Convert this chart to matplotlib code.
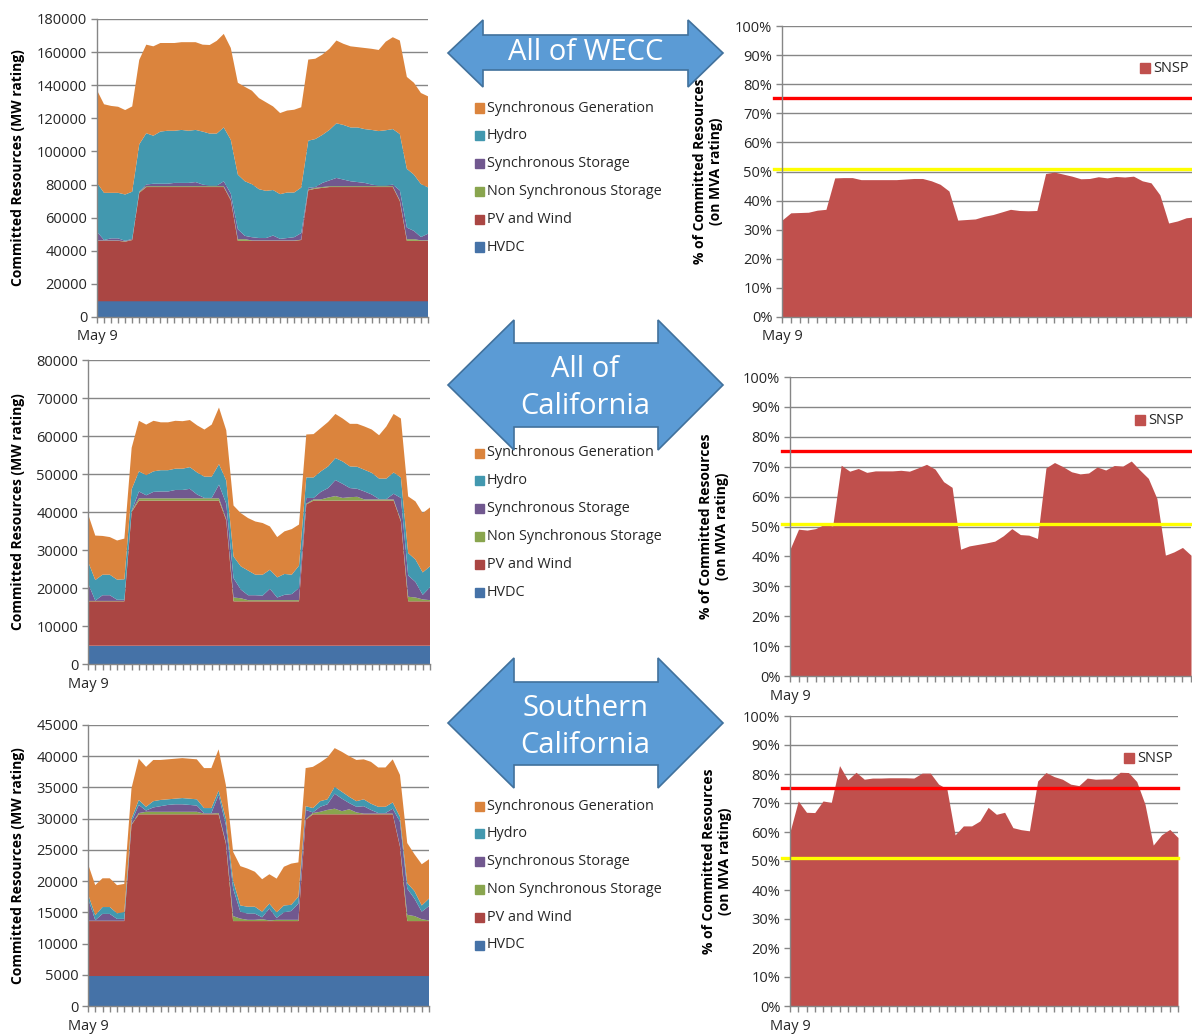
import numpy as np
import matplotlib
matplotlib.use("Agg")
import matplotlib.pyplot as plt
from matplotlib.patches import Polygon, Rectangle
from matplotlib.ticker import FuncFormatter, FixedLocator

plt.rcParams['font.family'] = ['Open Sans', 'DejaVu Sans']

# ---------------- data ----------------
series_names = ["HVDC", "PV and Wind", "Non Synchronous Storage",
                "Synchronous Storage", "Hydro", "Synchronous Generation"]
first_label = "May 9"

wecc_hvdc = [9500] * 48
wecc_pv = [36500, 36500, 36500, 36500, 36000, 37000, 65500,
           69000, 69000, 69000, 69000, 69000, 69000, 69000, 69000, 69000, 69000, 69000, 69000,
           61000,
           36500, 36500, 36500, 36500, 36500, 36500, 36500, 36500, 36500, 37000,
           67000, 68000, 68500,
           69000, 69000, 69000, 69000, 69000, 69000, 69000, 69000, 69000, 69000,
           60500, 36500, 36500, 36500, 36500]
wecc_nss = [200, 200, 200, 200, 200, 200,
            500, 500, 500, 500, 500, 500, 500, 500, 500, 500, 500, 500, 500, 500,
            1000, 1000, 200, 200, 200, 200, 200, 200, 200, 200,
            500, 500, 500, 500, 500, 500, 500, 500, 500, 500, 500, 500, 500, 500,
            1000, 1000, 300, 300]
wecc_ss = [5300, 300, 1300, 1300, 300, 500,
           300, 1000, 1500, 1500, 1500, 2000, 2000, 2000, 2500, 1000, 300, 300, 3000, 3500,
           6000, 2000, 2000, 1500, 1500, 3000, 1000, 1500, 2000, 4000,
           1000, 500, 2500, 3500, 5000, 4000, 3000, 2500, 2000, 1000, 300, 300, 1000, 6000,
           7000, 5000, 2000, 4000]
wecc_hydro = [29500, 28500, 27500, 27500, 28000, 28500,
              28500, 31000, 29000, 31500, 32000, 31500, 32000, 31500, 31500, 32000, 31500, 31500, 32500, 32500,
              33000, 33000, 32000, 29500, 28500, 27500, 27000, 27500, 27000, 27500,
              28500, 29000, 29000, 30500, 33000, 33000, 32500, 33000, 32500, 33000, 33000, 33500, 33500, 34000,
              35500, 34000, 32000, 28000]
wecc_sg = [56000, 53500, 52500, 52000, 51000, 51500,
           51000, 53500, 54000, 53500, 53000, 53000, 53000, 53500, 53000, 52500, 53500, 56000, 56500, 55500,
           55500, 57000, 56500, 55000, 53500, 50500, 49000, 49500, 50000, 48500,
           49000, 48500, 48500, 49000, 50000, 49000, 49000, 48500, 49000, 49000, 49000, 53500, 55500, 56500,
           55500, 55500, 55000, 55000]

cal_hvdc = [4800] * 48
cal_pv = [11700, 11700, 11700, 11700, 11700, 11700, 35200,
          38200, 38200, 38200, 38200, 38200, 38200, 38200, 38200, 38200, 38200, 38200, 38200,
          33000,
          11700, 11700, 11700, 11700, 11700, 11700, 11700, 11700, 11700, 11700,
          37200,
          38200, 38200, 38200, 38200, 38200, 38200, 38200, 38200, 38200, 38200, 38200, 38200,
          32700, 11700, 11700, 11700, 11700]
cal_nss = [100, 100, 100, 100, 100, 100, 200,
           600, 600, 600, 600, 600, 600, 600, 600, 600, 600, 600, 600,
           300, 1000, 800, 300, 300, 300, 300, 300, 300, 300, 300,
           200, 300, 300, 800, 1200, 700, 900, 1000, 300, 300, 300, 300, 300,
           300, 1200, 1000, 500, 300]
cal_ss = [4700, 100, 1500, 1500, 300, 300,
          100, 1800, 800, 1700, 1800, 1800, 2200, 2200, 2500, 1000, 100, 100, 3600, 4100,
          5100, 2300, 1300, 1300, 1200, 3000, 700, 1400, 1600, 3200,
          1500, 400, 2000, 2500, 4200, 3700, 2400, 2100, 2100, 1300, 100, 100, 1500, 5900,
          5600, 4100, 1200, 3400]
cal_hydro = [5700, 5400, 5400, 5400, 5300, 5400,
             5700, 5300, 5300, 5400, 5600, 5600, 5600, 5600, 5700, 5800, 5600, 5600, 5400, 6100,
             5700, 6100, 6500, 5400, 5500, 5000, 5300, 5500, 5100, 5900,
             5400, 5400, 5400, 5700, 5800, 5900, 5700, 5800, 5700, 5700, 5400, 5400, 5600, 5400,
             5900, 5900, 5900, 5500]
cal_sg = [12500, 11700, 10200, 9900, 10300, 10700,
          10900, 13300, 13300, 13300, 12600, 12600, 12600, 12500, 12400, 12400, 12400, 13700, 14900, 13200,
          13400, 14000, 13800, 14000, 13600, 11400, 10600, 11200, 12000, 10800,
          11300, 11400, 11400, 11700, 11600, 11300, 11200, 11300, 11400, 11400, 11400, 13700, 15400, 15500,
          14900, 15300, 15600, 15500]

socal_hvdc = [4800] * 48
socal_pv = [8800, 8800, 8800, 8800, 8800, 8800, 24200,
            25900, 25900, 25900, 25900, 25900, 25900, 25900, 25900, 25900, 25900, 25900, 25900,
            21200,
            8800, 8800, 8800, 8800, 8800, 8800, 8800, 8800, 8800, 8800,
            25000,
            25900, 25900, 25900, 25900, 25900, 25900, 25900, 25900, 25900, 25900, 25900, 25900,
            20700, 8800, 8800, 8800, 8800]
socal_nss = [50, 50, 50, 50, 50, 50, 100, 200,
             400, 400, 400, 400, 400, 400, 400, 400, 100, 100, 200, 200,
             800, 400, 200, 200, 300, 100, 200, 200, 200, 200,
             100, 200, 400, 700, 900, 500, 800, 300, 100, 100, 100, 100, 100,
             100, 1000, 800, 300, 100]
socal_ss = [3600, 100, 1100, 1100, 300, 300,
            400, 1300, 200, 700, 900, 1100, 1200, 1200, 1100, 1000, 100, 100, 2900, 2800,
            4400, 1100, 1000, 1000, 300, 1900, 300, 1200, 1400, 2600,
            1500, 100, 800, 900, 2400, 2000, 1000, 900, 1200, 600, 100, 100, 800, 3900,
            4200, 2800, 1200, 2300]
socal_hydro = [700, 800, 1100, 1100, 900, 1100,
               500, 800, 600, 1000, 1000, 900, 900, 1000, 1000, 1000, 800, 800, 700, 1000,
               1300, 1000, 1100, 1100, 900, 800, 900, 1100, 1000, 1100,
               600, 700, 900, 800, 1100, 1100, 1000, 900, 1100, 1000, 1000, 1000, 1000, 800,
               900, 1200, 1000, 1200]
socal_sg = [4800, 4800, 4600, 4600, 4500, 4500,
            4900, 6600, 6400, 6600, 6400, 6400, 6400, 6400, 6400, 6400, 6400, 6400, 6600, 5400,
            4600, 6300, 6100, 5600, 5200, 4700, 5400, 6200, 6600, 5500,
            6100, 6600, 6200, 6700, 6200, 6400, 6500, 6600, 6400, 6700, 6300, 6300, 6900, 6700,
            6400, 5900, 6600, 6300]

wecc_snsp = [33.3, 35.8, 35.9, 36.0, 36.7, 37.0, 47.8, 47.9, 47.9, 47.2,
             47.2, 47.2, 47.2, 47.2, 47.4, 47.6, 47.6, 46.8, 45.6, 43.3,
             33.3, 33.5, 33.7, 34.6, 35.2, 36.1, 37.0, 36.6, 36.5, 36.6,
             49.3, 49.8, 49.1, 48.4, 47.5, 47.6, 48.2, 47.8, 48.3, 48.1,
             48.4, 46.8, 46.1, 42.0, 32.3, 33.0, 34.1, 34.4]
cal_snsp = [42.4, 49.1, 48.8, 49.3, 50.7, 50.2, 70.5, 68.5, 69.4, 68.1,
            68.6, 68.6, 68.6, 68.8, 68.5, 69.6, 70.8, 69.2, 65.0, 63.1,
            42.4, 43.5, 44.0, 44.5, 45.1, 46.9, 49.3, 47.3, 47.1, 46.0,
            69.6, 71.4, 70.0, 68.3, 67.6, 67.9, 69.9, 68.9, 70.4, 70.2,
            71.9, 68.9, 66.1, 59.4, 40.4, 41.5, 43.0, 40.4]
socal_snsp = [60.1, 70.7, 66.8, 66.7, 70.7, 70.2, 82.9, 78.0, 80.6, 78.2,
              78.6, 78.6, 78.7, 78.7, 78.7, 78.6, 80.3, 80.3, 76.5, 74.9,
              59.0, 62.1, 62.1, 63.8, 68.5, 66.1, 66.8, 61.5, 60.8, 60.4,
              77.6, 80.5, 79.1, 78.2, 76.5, 76.0, 78.6, 78.2, 78.3, 78.3,
              80.6, 80.5, 77.4, 69.6, 55.5, 59.0, 60.9, 58.1]

snsp_limit_red = [75.3, 75.4, 75.3]
snsp_limit_yellow = [50.8, 51.0, 50.9]

region_titles = ["All of WECC", "All of\nCalifornia", "Southern\nCalifornia"]

# ---------------- style ----------------
colors = {"HVDC": "#4572A7", "PV and Wind": "#AA4643",
          "Non Synchronous Storage": "#89A54E", "Synchronous Storage": "#71588F",
          "Hydro": "#4298AF", "Synchronous Generation": "#DB843D"}
snsp_color = "#C0504D"
grid_c = "#868686"
txt_c = "#262626"
arrow_fc = "#5B9BD5"
arrow_ec = "#41719C"

W, H = 1192, 1034
fig = plt.figure(figsize=(W / 100, H / 100), dpi=100)


def ax_px(x0, y0, x1, y1):
    return fig.add_axes([x0 / W, 1 - y1 / H, (x1 - x0) / W, (y1 - y0) / H])


def style_axes(ax, n):
    for s in ["top", "right"]:
        ax.spines[s].set_visible(False)
    for s in ["left", "bottom"]:
        ax.spines[s].set_color(grid_c)
        ax.spines[s].set_linewidth(1)
    ax.set_axisbelow(True)
    ax.yaxis.grid(True, color=grid_c, lw=1)
    ax.xaxis.set_major_locator(FixedLocator(list(range(n))))
    ax.set_xticklabels([first_label] + [""] * (n - 1))
    ax.tick_params(axis="both", colors=grid_c, length=4, width=1, direction="out")
    ax.tick_params(axis="both", labelcolor=txt_c, labelsize=10.5, pad=3)
    ax.tick_params(axis="x", pad=5)


left_boxes = [(97, 19, 428, 317), (88, 360, 430, 664), (88, 725, 429, 1006)]
right_boxes = [(782, 26, 1192, 317), (790, 377, 1191, 676), (790, 716, 1178, 1006)]
right_xmax = [46.66, 47, 47]
ymaxes = [180000, 80000, 45000]
ysteps = [20000, 10000, 5000]

stack_data = [
    [wecc_hvdc, wecc_pv, wecc_nss, wecc_ss, wecc_hydro, wecc_sg],
    [cal_hvdc, cal_pv, cal_nss, cal_ss, cal_hydro, cal_sg],
    [socal_hvdc, socal_pv, socal_nss, socal_ss, socal_hydro, socal_sg],
]
snsp_data = [wecc_snsp, cal_snsp, socal_snsp]

for r in range(3):
    # left stacked area
    ax = ax_px(*left_boxes[r])
    data = stack_data[r]
    n = len(data[0])
    x = np.arange(n)
    ax.stackplot(x, *data, colors=[colors[s] for s in series_names], linewidth=0)
    ax.set_xlim(0, n - 1)
    ax.set_ylim(0, ymaxes[r])
    ax.set_yticks(np.arange(0, ymaxes[r] + 1, ysteps[r]))
    ax.yaxis.set_major_formatter(FuncFormatter(lambda v, p: f"{int(v)}"))
    style_axes(ax, n)
    ax.set_ylabel("Committed Resources (MW rating)", fontsize=10, fontweight="bold",
                  color="black")
    bx = left_boxes[r]
    ax.yaxis.set_label_coords(-(bx[0] - 25) / (bx[2] - bx[0]), 0.5)

    # right SNSP
    ax2 = ax_px(*right_boxes[r])
    sn = snsp_data[r]
    n2 = len(sn)
    x2 = np.arange(n2)
    ax2.fill_between(x2, 0, sn, color=snsp_color, lw=0, label="SNSP")
    ax2.axhline(snsp_limit_red[r], color="#FF0000", lw=2.4, xmin=-0.02, clip_on=False)
    ax2.axhline(snsp_limit_yellow[r], color="#FFFF00", lw=2.4, xmin=-0.02, clip_on=False)
    ax2.set_xlim(0, right_xmax[r])
    ax2.set_ylim(0, 100)
    ax2.set_yticks(np.arange(0, 101, 10))
    ax2.yaxis.set_major_formatter(FuncFormatter(lambda v, p: f"{int(v)}%"))
    style_axes(ax2, n2)
    ax2.set_ylabel("% of Committed Resources\n(on MVA rating)", fontsize=10,
                   fontweight="bold", color="black", linespacing=1.15)
    lx = [723, 729, 732][r]
    rb = right_boxes[r]
    ax2.yaxis.set_label_coords(-(rb[0] - lx) / (rb[2] - rb[0]), 0.5)

# SNSP legends
for (sx, sy) in [(1145, 68), (1140, 420), (1129, 758)]:
    fig.patches.append(Rectangle(((sx - 5) / W, 1 - (sy + 5) / H), 10 / W, 10 / H,
                                 transform=fig.transFigure, color=snsp_color, zorder=6))
    fig.text((sx + 8) / W, 1 - sy / H, "SNSP", fontsize=10.5, color=txt_c,
             va="center", ha="left", zorder=6)

# middle legends
legend_order = ["Synchronous Generation", "Hydro", "Synchronous Storage",
                "Non Synchronous Storage", "PV and Wind", "HVDC"]
legend_tops = [108, 453, 806]
for r in range(3):
    for k, name in enumerate(legend_order):
        yy = legend_tops[r] + k * 27.8
        fig.patches.append(Rectangle((474.5 / W, 1 - (yy + 4.5) / H), 9 / W, 9 / H,
                                     transform=fig.transFigure, color=colors[name], zorder=6))
        fig.text(487 / W, 1 - yy / H, name, fontsize=10.4, color=txt_c,
                 va="center", ha="left", zorder=6)

# arrows
arrow_geo = [
    # tipL, headbaseL, headbaseR, tipR, head top, body top, body bot, head bot, mid
    (448, 483, 688, 723, 20, 35, 70, 87, 53),
    (448, 514, 658, 723, 320, 343, 427, 450, 385),
    (448, 514, 658, 723, 658, 682, 765, 788, 723),
]
text_centers = [(586, 53), (585, 388), (585, 727)]
for r, (tl, hl, hr, tr, ht, bt, bb, hb, ym) in enumerate(arrow_geo):
    pts = [(tl, ym), (hl, ht), (hl, bt), (hr, bt), (hr, ht), (tr, ym),
           (hr, hb), (hr, bb), (hl, bb), (hl, hb)]
    pts = [(px / W, 1 - py / H) for px, py in pts]
    fig.patches.append(Polygon(pts, closed=True, transform=fig.transFigure,
                               facecolor=arrow_fc, edgecolor=arrow_ec, lw=1.2, zorder=8))
    cx, cy = text_centers[r]
    fig.text(cx / W, 1 - cy / H, region_titles[r], fontsize=21, color="white",
             ha="center", va="center", linespacing=1.4, zorder=9)

fig.savefig("out.png", dpi=100)
